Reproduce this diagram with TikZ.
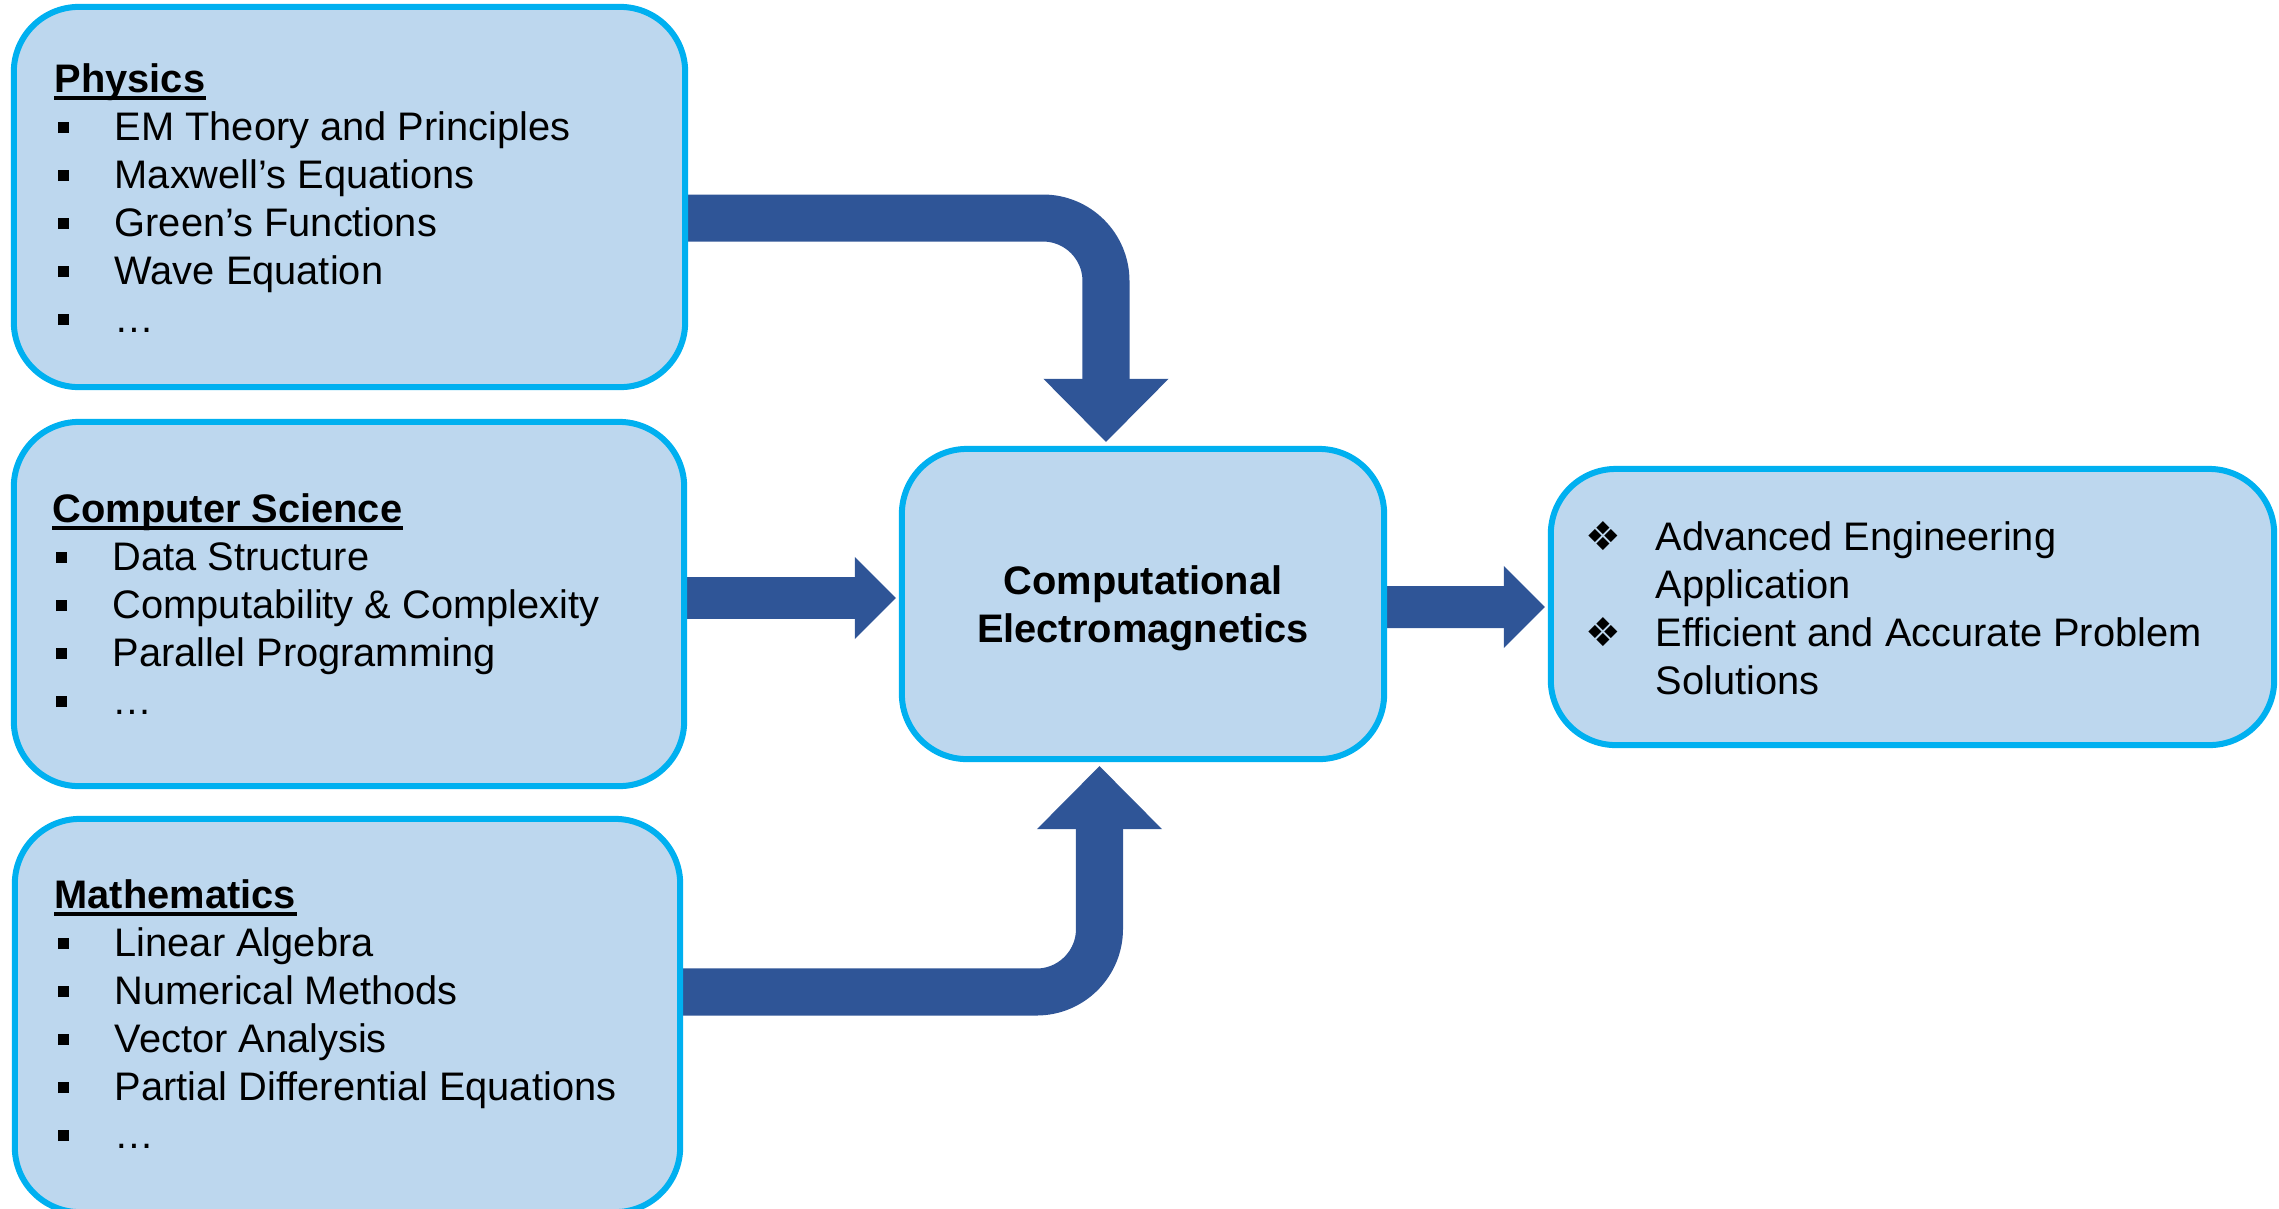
\documentclass[tikz,border=0pt]{standalone}
\usepackage{fontspec}
\setmainfont{Liberation Sans}
\newfontfamily\dingfont{DejaVu Sans}
\usetikzlibrary{arrows.meta,backgrounds}

\definecolor{boxfill}{HTML}{BDD7EE}
\definecolor{boxline}{HTML}{00B0F0}
\definecolor{flowblue}{HTML}{2F5597}

\newcommand\boxfont{\fontsize{11.32pt}{13.66pt}\selectfont}
\newcommand\sqbullet{\makebox[0.58cm][l]{\hspace{0.01cm}\rule[0.07cm]{0.115cm}{0.115cm}}}
\newcommand\dmbullet{\makebox[0.70cm][l]{\dingfont ❖}}

\tikzset{
  box/.style={draw=boxline, fill=boxfill, line width=0.06cm,
    rounded corners=0.65cm, inner sep=0pt},
  head/.style={anchor=base west, inner sep=0pt, font=\boxfont\bfseries},
  item/.style={anchor=base west, inner sep=0pt, font=\boxfont},
  flow/.style={draw=flowblue, line width=0.47cm,
    -{Triangle[width=1.25cm, length=0.63cm, line width=0pt]}},
  thinflow/.style={draw=flowblue, line width=0.42cm,
    -{Triangle[width=0.82cm, length=0.41cm, line width=0pt]}},
}

\begin{document}
\begin{tikzpicture}[x=0.01cm, y=-0.01cm]
  \useasboundingbox (0,0) rectangle (2279,1208);

  % the three source boxes
  \node[box, minimum width=6.71cm, minimum height=3.80cm] (phys) at (349.5,197) {};
  \node[box, minimum width=6.70cm, minimum height=3.64cm] (cs) at (349,604) {};
  \node[box, minimum width=6.65cm, minimum height=3.93cm] (maths) at (347.5,1015.5) {};

  % centre and outcome
  \node[box, minimum width=4.82cm, minimum height=3.10cm] (cem) at (1143,604) {};
  \node[align=center, font=\boxfont\bfseries, inner sep=0pt] (cem-t)
    at ([yshift=-0.045cm]cem.center) {Computational\\Electromagnetics};
  \node[box, minimum width=7.23cm, minimum height=2.76cm] (out) at (1912.5,607) {};

  \node[head] (phys-t) at (54,92) {Physics};
  \foreach \txt [count=\i] in {EM Theory and Principles, Maxwell’s Equations,
      Green’s Functions, Wave Equation, …}
    \node[item] (phys-\i) at (56,92+48*\i) {\sqbullet\txt};

  \node[head] (cs-t) at (52,522) {Computer Science};
  \foreach \txt [count=\i] in {Data Structure, Computability \& Complexity,
      Parallel Programming, …}
    \node[item] (cs-\i) at (54,522+48*\i) {\sqbullet\txt};

  \node[head] (maths-t) at (54,908) {Mathematics};
  \foreach \txt [count=\i] in {Linear Algebra, Numerical Methods, Vector Analysis,
      Partial Differential Equations, …}
    \node[item] (maths-\i) at (56,908+48*\i) {\sqbullet\txt};

  \foreach \n in {phys-t, cs-t, maths-t}
    \draw[line width=0.04cm] ([yshift=-0.055cm]\n.base west) -- ([yshift=-0.055cm]\n.base east);

  \node[item] (out-1) at (1585,550) {\dmbullet Advanced Engineering};
  \node[item] (out-2) at (1655,598) {Application};
  \node[item] (out-3) at (1585,646) {\dmbullet Efficient and Accurate Problem};
  \node[item] (out-4) at (1655,694) {Solutions};

  % block arrows
  \begin{scope}[on background layer]
    \draw[flow, rounded corners=0.63cm] ([yshift=-0.21cm]phys.east)
      -| ([xshift=-0.37cm, yshift=0.04cm]cem.north);
    \draw[flow, rounded corners=0.63cm] ([yshift=0.235cm]maths.east)
      -| ([xshift=-0.435cm, yshift=-0.04cm]cem.south);
    \draw[thinflow] ([yshift=0.06cm]cs.east) -- ([xshift=-0.03cm, yshift=0.06cm]cem.west);
    \draw[thinflow] ([yshift=-0.03cm]cem.east) -- ([xshift=-0.03cm]out.west);
  \end{scope}
\end{tikzpicture}
\end{document}
